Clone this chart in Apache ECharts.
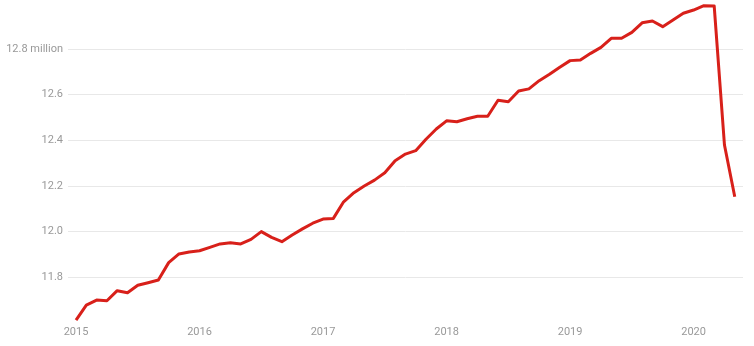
<!DOCTYPE html>
<html>
<head>
<meta charset="utf-8">
<script src="https://cdn.jsdelivr.net/npm/echarts@6/dist/echarts.min.js"></script>
<style>
html,body{margin:0;padding:0;background:#fff;}
#c{width:754px;height:346px;}
</style>
</head>
<body>
<div id="c"></div>
<script>
// Months from Jan 2015 (index 0) to May 2020 (index 64); values in millions
const months = [];
for (let y = 2015; y <= 2020; y++) {
  for (let m = 1; m <= 12; m++) {
    if (y === 2020 && m > 5) break;
    months.push(y + '-' + String(m).padStart(2, '0'));
  }
}
const values = [
  // 2015
  11.611, 11.677, 11.699, 11.696, 11.740, 11.731, 11.764, 11.775, 11.787, 11.863, 11.901, 11.910,
  // 2016
  11.915, 11.930, 11.945, 11.950, 11.945, 11.965, 11.999, 11.974, 11.955, 11.984, 12.011, 12.036,
  // 2017
  12.054, 12.057, 12.130, 12.170, 12.199, 12.225, 12.257, 12.310, 12.339, 12.354, 12.404, 12.449,
  // 2018
  12.485, 12.481, 12.494, 12.505, 12.505, 12.575, 12.569, 12.616, 12.625, 12.661, 12.689, 12.720,
  // 2019
  12.749, 12.752, 12.781, 12.807, 12.847, 12.847, 12.873, 12.915, 12.923, 12.898, 12.927, 12.957,
  // 2020
  12.971, 12.990, 12.989, 12.379, 12.152
];
const yearLabels = ['2015', '2016', '2017', '2018', '2019', '2020'];
const yearTickIndex = [0, 12, 24, 36, 48, 60];
const yTicks = [11.8, 12.0, 12.2, 12.4, 12.6, 12.8];

const data = values.map((v, i) => [i, v]);

const chart = echarts.init(document.getElementById('c'));
chart.setOption({
  animation: false,
  grid: { left: 68, right: 11, top: 3.4, bottom: 23.4, containLabel: false },
  xAxis: {
    type: 'value',
    min: -0.78,
    max: 64.8,
    axisLine: { show: false },
    axisTick: { show: false },
    splitLine: { show: false },
    axisLabel: {
      customValues: yearTickIndex,
      formatter: v => yearLabels[yearTickIndex.indexOf(Math.round(v))] || '',
      color: '#999',
      fontFamily: 'Roboto',
      fontSize: 11,
      margin: 4
    }
  },
  yAxis: {
    type: 'value',
    min: 11.6,
    max: 13.0,
    interval: 0.2,
    axisLine: { show: false },
    axisTick: { show: false },
    splitLine: { show: true, showMinLine: false, showMaxLine: false, lineStyle: { color: '#e8e8e8', width: 1 } },
    axisLabel: {
      showMinLabel: false,
      showMaxLabel: false,
      color: '#999',
      fontFamily: 'Roboto',
      fontSize: 11,
      margin: 5,
      formatter: v => {
        const r = Math.round(v * 10) / 10;
        if (!yTicks.some(t => Math.abs(t - r) < 1e-6)) return '';
        return Math.abs(r - 12.8) < 1e-6 ? r.toFixed(1) + ' million' : r.toFixed(1);
      }
    }
  },
  series: [{
    type: 'line',
    data: data,
    showSymbol: false,
    clip: false,
    lineStyle: { color: '#d8201a', width: 3, join: 'round' },
    itemStyle: { color: '#d8201a' }
  }]
});
</script>
</body>
</html>
